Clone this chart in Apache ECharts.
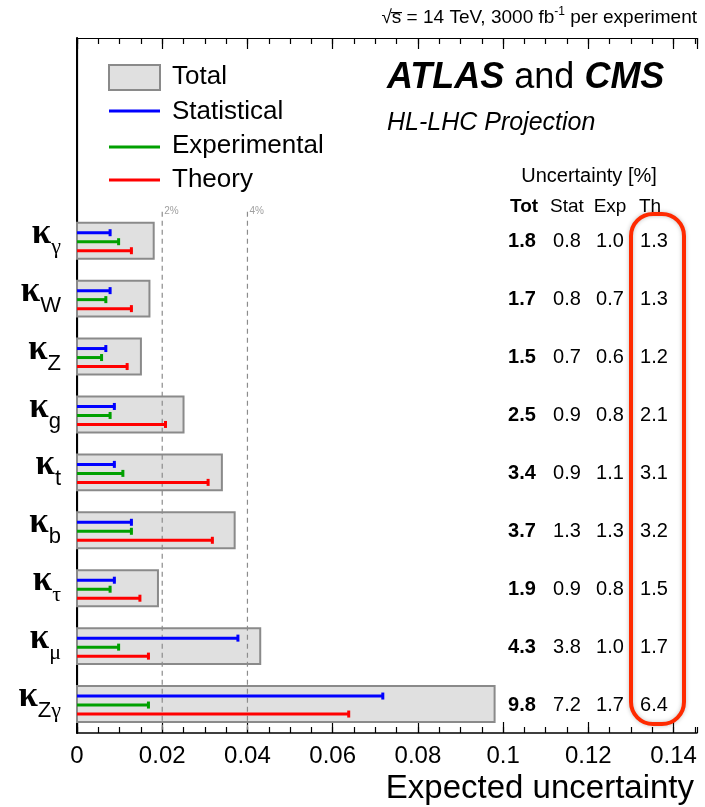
<!DOCTYPE html>
<html><head><meta charset="utf-8">
<script src="https://cdn.jsdelivr.net/npm/echarts@6/dist/echarts.min.js"></script>
<style>html,body{margin:0;padding:0;background:#fff}#c{width:705px;height:807px}</style>
</head><body><div id="c"></div>
<script>
// ---- data ----
const kappaSubs = ['γ', 'W', 'Z', 'g', 't', 'b', 'τ', 'μ', 'Zγ'];
const totUnc  = [1.8, 1.7, 1.5, 2.5, 3.4, 3.7, 1.9, 4.3, 9.8];
const statUnc = [0.8, 0.8, 0.7, 0.9, 0.9, 1.3, 0.9, 3.8, 7.2];
const expUnc  = [1.0, 0.7, 0.6, 0.8, 1.1, 1.3, 0.8, 1.0, 1.7];
const thUnc   = [1.3, 1.3, 1.2, 2.1, 3.1, 3.2, 1.5, 1.7, 6.4];
const refLines = [0.02, 0.04];
const refLabels = ['2%', '4%'];
const legendNames = ['Total', 'Statistical', 'Experimental', 'Theory'];
const tableHeaders = ['Tot', 'Stat', 'Exp', 'Th'];
const blankSlots = ['L1', 'L2', 'L3'];

const categories = blankSlots.concat(kappaSubs);
const OFF = blankSlots.length;
const SANS = '"Liberation Sans", Arial, sans-serif';
const SERIF = '"Liberation Serif", "Times New Roman", serif';
const colStat = '#0000ff', colExp = '#00a000', colTh = '#ff0000';

const chart = echarts.init(document.getElementById('c'), null, {renderer: 'canvas'});

function lineItem(color, off) {
  return function (params, api) {
    const idx = api.value(1);
    const p0 = api.coord([0, idx]);
    const p1 = api.coord([api.value(0), idx]);
    const y = p0[1] + off;
    return {type: 'group', children: [
      {type: 'line', shape: {x1: p0[0], y1: y, x2: p1[0], y2: y}, style: {stroke: color, lineWidth: 3}},
      {type: 'line', shape: {x1: p1[0] - 1, y1: y - 3.5, x2: p1[0] - 1, y2: y + 3.5}, style: {stroke: color, lineWidth: 3}}
    ]};
  };
}

const labelRich = {
  k: {fontFamily: SERIF, fontSize: 35, fontWeight: 'bold', color: '#000', lineHeight: 50},
  s: {fontFamily: SANS, fontSize: 22, color: '#000', lineHeight: 24, verticalAlign: 'bottom'},
  g: {fontFamily: SERIF, fontSize: 22, color: '#000', lineHeight: 24, verticalAlign: 'bottom'}
};
function kappaLabel(v, i) {
  if (i < OFF) return '';
  let s = '{k|κ}';
  for (const ch of v) s += (/[α-ω]/.test(ch) ? '{g|' : '{s|') + ch + '}';
  return s;
}

const gridRect = {left: 77, top: 38, width: 620, height: 695};
const xMax = 0.1455;

const option = {
  animation: false,
  backgroundColor: '#fff',
  grid: [Object.assign({containLabel: false}, gridRect), Object.assign({containLabel: false}, gridRect)],
  xAxis: [
    {type: 'value', gridIndex: 0, position: 'bottom', min: 0, max: xMax, interval: 0.02,
     axisLine: {show: true, lineStyle: {color: '#000', width: 1.5}},
     axisTick: {show: true, inside: true, length: 11, lineStyle: {color: '#000', width: 1.2}},
     axisLabel: {show: true, showMaxLabel: false, color: '#000', fontFamily: SANS, fontSize: 24, margin: 11,
                 formatter: v => (v === 0 ? '0' : String(+v.toFixed(3)))},
     splitLine: {show: false}},
    {type: 'value', gridIndex: 0, position: 'top', min: 0, max: xMax, interval: 0.02,
     axisLine: {show: true, lineStyle: {color: '#000', width: 1.2}},
     axisTick: {show: true, inside: true, length: 11, lineStyle: {color: '#000', width: 1.2}},
     axisLabel: {show: false}, splitLine: {show: false}},
    {type: 'value', gridIndex: 1, position: 'bottom', min: 0, max: xMax, interval: 0.005,
     axisLine: {show: false},
     axisTick: {show: true, inside: true, length: 6, lineStyle: {color: '#000', width: 1.2}},
     axisLabel: {show: false}, splitLine: {show: false}},
    {type: 'value', gridIndex: 1, position: 'top', min: 0, max: xMax, interval: 0.005,
     axisLine: {show: false},
     axisTick: {show: true, inside: true, length: 6, lineStyle: {color: '#000', width: 1.2}},
     axisLabel: {show: false}, splitLine: {show: false}}
  ],
  yAxis: [
    {type: 'category', gridIndex: 0, data: categories, inverse: true, position: 'left',
     axisLine: {show: true, lineStyle: {color: '#000', width: 2}},
     axisTick: {show: false},
     axisLabel: {show: true, margin: 16, interval: 0, formatter: kappaLabel, rich: labelRich, padding: [0, 0, 14, 0]},
     splitLine: {show: false}},
    {type: 'value', gridIndex: 1, position: 'right', min: 0, max: 1,
     axisLine: {show: true, lineStyle: {color: '#000', width: 1.2}},
     axisTick: {show: false}, axisLabel: {show: false}, splitLine: {show: false}}
  ],
  series: [
    {type: 'custom', name: legendNames[0], xAxisIndex: 0, yAxisIndex: 0, z: 1, silent: true,
     encode: {x: 0, y: 1},
     data: totUnc.map((v, i) => [v / 100, i + OFF]),
     renderItem: function (params, api) {
       const idx = api.value(1);
       const p0 = api.coord([0, idx]);
       const p1 = api.coord([api.value(0), idx]);
       const h = api.size([0, 1])[1] * 0.62;
       return {type: 'rect', shape: {x: p0[0], y: p0[1] - h / 2, width: p1[0] - p0[0], height: h},
               style: {fill: '#e0e0e0', stroke: '#8a8a8a', lineWidth: 2}};
     }},
    {type: 'custom', name: 'ref', xAxisIndex: 0, yAxisIndex: 0, z: 2, silent: true,
     encode: {x: 0},
     data: refLines.map((v, i) => [v, i]),
     renderItem: function (params, api) {
       const v = api.value(0);
       const step = api.size([0, 1])[1];
       const top = api.coord([v, OFF])[1] - step / 2;
       const bottom = api.coord([v, categories.length - 1])[1] + step / 2;
       const x = api.coord([v, OFF])[0];
       return {type: 'group', children: [
         {type: 'line', shape: {x1: x, y1: top, x2: x, y2: bottom},
          style: {stroke: '#8c8c8c', lineWidth: 1.2, lineDash: [5, 4]}},
         {type: 'text', x: x + 2, y: top - 1,
          style: {text: refLabels[params.dataIndex], font: '10px ' + SANS, fill: '#a0a0a0', align: 'left', verticalAlign: 'middle'}}
       ]};
     }},
    {type: 'custom', name: legendNames[1], xAxisIndex: 0, yAxisIndex: 0, z: 3, silent: true,
     encode: {x: 0, y: 1}, data: statUnc.map((v, i) => [v / 100, i + OFF]), renderItem: lineItem(colStat, -8)},
    {type: 'custom', name: legendNames[2], xAxisIndex: 0, yAxisIndex: 0, z: 3, silent: true,
     encode: {x: 0, y: 1}, data: expUnc.map((v, i) => [v / 100, i + OFF]), renderItem: lineItem(colExp, 1)},
    {type: 'custom', name: legendNames[3], xAxisIndex: 0, yAxisIndex: 0, z: 3, silent: true,
     encode: {x: 0, y: 1}, data: thUnc.map((v, i) => [v / 100, i + OFF]), renderItem: lineItem(colTh, 10)},
    {type: 'custom', name: 'table', xAxisIndex: 0, yAxisIndex: 0, z: 4, silent: true,
     encode: {x: 0, y: 1},
     data: totUnc.map((v, i) => [0, i + OFF, v, statUnc[i], expUnc[i], thUnc[i]]),
     renderItem: function (params, api) {
       const y = api.coord([0, api.value(1)])[1];
       const xs = [522, 567, 610, 654];
       const children = [];
       for (let k = 0; k < 4; k++) {
         children.push({type: 'text', x: xs[k], y: y + 1,
           style: {text: api.value(2 + k).toFixed(1), font: (k === 0 ? 'bold ' : '') + '20px ' + SANS,
                   fill: '#000', align: 'center', verticalAlign: 'middle'}});
       }
       return {type: 'group', children: children};
     }}
  ],
  graphic: [
    {type: 'text', x: 697, y: 18, silent: true,
     style: {text: '√s\u0305 = 14 TeV, 3000 fb{sup|-1} per experiment', font: '19px ' + SANS, fill: '#000',
             align: 'right', verticalAlign: 'middle',
             rich: {sup: {fontSize: 12, fontFamily: SANS, padding: [0, 0, 12, 0]}}}},
    {type: 'text', x: 387, y: 78, silent: true,
     style: {text: '{b|ATLAS}{n| and }{b|CMS}', fill: '#000', align: 'left', verticalAlign: 'middle',
             rich: {b: {fontFamily: SANS, fontSize: 36, fontWeight: 'bold', fontStyle: 'italic'},
                    n: {fontFamily: SANS, fontSize: 36}}}},
    {type: 'text', x: 387, y: 123, silent: true,
     style: {text: 'HL-LHC Projection', font: 'italic 25px ' + SANS, fill: '#000', align: 'left', verticalAlign: 'middle'}},
    {type: 'text', x: 589, y: 176, silent: true,
     style: {text: 'Uncertainty [%]', font: '20px ' + SANS, fill: '#000', align: 'center', verticalAlign: 'middle'}},
    {type: 'text', x: 524, y: 207, silent: true,
     style: {text: tableHeaders[0], font: 'bold 19px ' + SANS, fill: '#000', align: 'center', verticalAlign: 'middle'}},
    {type: 'text', x: 567, y: 207, silent: true,
     style: {text: tableHeaders[1], font: '19px ' + SANS, fill: '#000', align: 'center', verticalAlign: 'middle'}},
    {type: 'text', x: 610, y: 207, silent: true,
     style: {text: tableHeaders[2], font: '19px ' + SANS, fill: '#000', align: 'center', verticalAlign: 'middle'}},
    {type: 'text', x: 650, y: 207, silent: true,
     style: {text: tableHeaders[3], font: '19px ' + SANS, fill: '#000', align: 'center', verticalAlign: 'middle'}},
    // legend
    {type: 'rect', shape: {x: 109, y: 65, width: 51, height: 25}, silent: true,
     style: {fill: '#e0e0e0', stroke: '#8a8a8a', lineWidth: 2}},
    {type: 'line', shape: {x1: 109, y1: 111, x2: 160, y2: 111}, silent: true, style: {stroke: colStat, lineWidth: 3}},
    {type: 'line', shape: {x1: 109, y1: 147, x2: 160, y2: 147}, silent: true, style: {stroke: colExp, lineWidth: 3}},
    {type: 'line', shape: {x1: 109, y1: 180, x2: 160, y2: 180}, silent: true, style: {stroke: colTh, lineWidth: 3}},
    {type: 'text', x: 172, y: 77, silent: true,
     style: {text: legendNames[0], font: '26px ' + SANS, fill: '#000', align: 'left', verticalAlign: 'middle'}},
    {type: 'text', x: 172, y: 112, silent: true,
     style: {text: legendNames[1], font: '26px ' + SANS, fill: '#000', align: 'left', verticalAlign: 'middle'}},
    {type: 'text', x: 172, y: 146, silent: true,
     style: {text: legendNames[2], font: '26px ' + SANS, fill: '#000', align: 'left', verticalAlign: 'middle'}},
    {type: 'text', x: 172, y: 180, silent: true,
     style: {text: legendNames[3], font: '26px ' + SANS, fill: '#000', align: 'left', verticalAlign: 'middle'}},
    // highlight box
    {type: 'rect', shape: {x: 631, y: 214, width: 53, height: 510, r: 22}, silent: true, z: 10,
     style: {fill: 'none', stroke: '#ff2a00', lineWidth: 4, shadowBlur: 4, shadowColor: 'rgba(0,0,0,0.25)'}},
    {type: 'text', x: 694, y: 789, silent: true,
     style: {text: 'Expected uncertainty', font: '33px ' + SANS, fill: '#000', align: 'right', verticalAlign: 'middle'}}
  ]
};
chart.setOption(option);
</script>
</body></html>
